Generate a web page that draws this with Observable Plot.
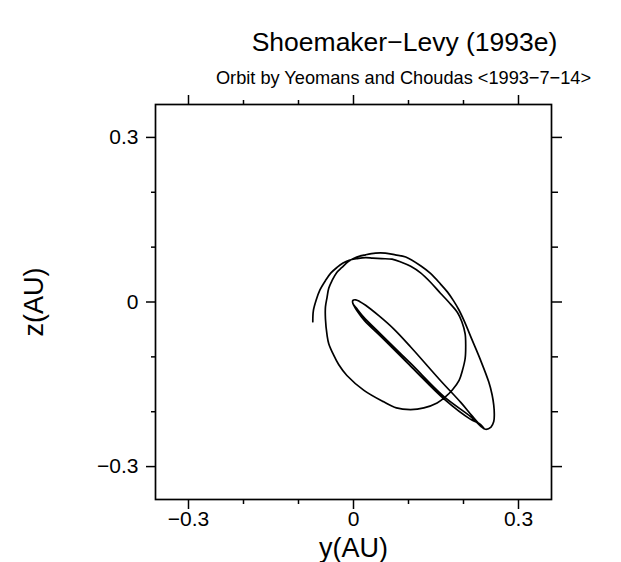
<!DOCTYPE html>
<html>
<head>
<meta charset="utf-8">
<script src="https://cdn.jsdelivr.net/npm/d3@7"></script>
<script src="https://cdn.jsdelivr.net/npm/@observablehq/plot@0.6"></script>
<style>
  html, body { margin: 0; padding: 0; background: #fff; }
  #chart svg { display: block; }
</style>
</head>
<body>
<div id="chart"></div>
<script>
// Jovicentric path, y (AU) and z (AU), in drawing order
const startArc = [
  [-0.074, -0.036], [-0.073, -0.016], [-0.068, 0.003], [-0.061, 0.022],
  [-0.051, 0.039], [-0.041, 0.053], [-0.030, 0.063], [-0.019, 0.071], [-0.008, 0.076]
];
const eggLoop = [
  [0.006, 0.079], [0.022, 0.081], [0.035, 0.080], [0.051, 0.079], [0.070, 0.078],
  [0.086, 0.073], [0.104, 0.065], [0.122, 0.053], [0.140, 0.036], [0.158, 0.016],
  [0.173, 0.000], [0.189, -0.019], [0.197, -0.036], [0.203, -0.058], [0.204, -0.082],
  [0.203, -0.103], [0.198, -0.125], [0.192, -0.143], [0.180, -0.160], [0.166, -0.174],
  [0.152, -0.184], [0.128, -0.193], [0.104, -0.196], [0.078, -0.193], [0.055, -0.182],
  [0.019, -0.161], [-0.012, -0.134], [-0.027, -0.114], [-0.036, -0.097], [-0.045, -0.076],
  [-0.048, -0.061], [-0.051, -0.031], [-0.051, -0.009], [-0.048, 0.009], [-0.045, 0.025],
  [-0.039, 0.039], [-0.031, 0.053], [-0.021, 0.063], [-0.009, 0.074]
];
const outerLoop = [
  [0.006, 0.082], [0.022, 0.086], [0.040, 0.089], [0.058, 0.089], [0.076, 0.086],
  [0.095, 0.082], [0.122, 0.066], [0.140, 0.052], [0.158, 0.033], [0.171, 0.018],
  [0.182, 0.002], [0.192, -0.015], [0.201, -0.034], [0.216, -0.070], [0.231, -0.106],
  [0.246, -0.146], [0.252, -0.169], [0.255, -0.188], [0.256, -0.205], [0.255, -0.218],
  [0.250, -0.228], [0.240, -0.232]
];
const inbound1 = [
  [0.231, -0.226], [0.213, -0.209], [0.164, -0.172], [0.104, -0.112], [0.049, -0.058],
  [0.018, -0.027], [0.006, -0.012], [-0.001, -0.003], [-0.001, 0.003]
];
const outbound = [
  [0.004, 0.004], [0.011, 0.001], [0.022, -0.006], [0.046, -0.025], [0.073, -0.049],
  [0.104, -0.082], [0.158, -0.143], [0.195, -0.183], [0.216, -0.208], [0.231, -0.225],
  [0.238, -0.231]
];
const inbound2 = [
  [0.229, -0.222], [0.213, -0.214], [0.166, -0.178], [0.106, -0.119], [0.051, -0.064],
  [0.020, -0.034], [0.007, -0.017], [0.000, -0.005]
];

const majorTicks = [-0.3, 0, 0.3];
const minorTicks = [-0.2, -0.1, 0.1, 0.2];
const titleText = "Shoemaker\u2212Levy (1993e)";
const subtitleText = "Orbit by Yeomans and Choudas <1993\u22127\u221214>";
const xLabel = "y(AU)";
const yLabel = "z(AU)";

const path = [...startArc, ...eggLoop, ...outerLoop, ...inbound1, ...outbound, ...inbound2]
  .map(([y, z], i) => ({y, z, i}));

const fmt = d => d === 0 ? "0" : (d < 0 ? "\u2212" : "") + Math.abs(d).toFixed(1);
const blank = () => "";
const font = "Liberation Sans, Arial, sans-serif";

const chart = Plot.plot({
  width: 621,
  height: 562,
  marginLeft: 155,
  marginRight: 70,
  marginTop: 104,
  marginBottom: 63,
  style: {fontFamily: font, background: "#fff", color: "#000"},
  x: {domain: [-0.36, 0.36], axis: null},
  y: {domain: [-0.36, 0.36], axis: null},
  marks: [
    Plot.frame({stroke: "#000", strokeWidth: 1.7}),
    // bottom
    Plot.axisX({anchor: "bottom", ticks: majorTicks, tickSize: 10, tickPadding: 2, tickFormat: fmt, fontSize: 21, strokeWidth: 1.5, label: null}),
    Plot.axisX({anchor: "bottom", ticks: minorTicks, tickSize: 5, tickFormat: blank, strokeWidth: 1.5, label: null}),
    // top
    Plot.axisX({anchor: "top", ticks: majorTicks, tickSize: 10, tickFormat: blank, strokeWidth: 1.5, label: null}),
    Plot.axisX({anchor: "top", ticks: minorTicks, tickSize: 5, tickFormat: blank, strokeWidth: 1.5, label: null}),
    // left
    Plot.axisY({anchor: "left", ticks: majorTicks, tickSize: 9, tickPadding: 8, tickFormat: fmt, fontSize: 21, strokeWidth: 1.5, label: null}),
    Plot.axisY({anchor: "left", ticks: minorTicks, tickSize: 4, tickFormat: blank, strokeWidth: 1.5, label: null}),
    // right
    Plot.axisY({anchor: "right", ticks: majorTicks, tickSize: 10, tickFormat: blank, strokeWidth: 1.5, label: null}),
    Plot.axisY({anchor: "right", ticks: minorTicks, tickSize: 6, tickFormat: blank, strokeWidth: 1.5, label: null}),
    // orbit
    Plot.line(path, {x: "y", y: "z", curve: "catmull-rom", stroke: "#000", strokeWidth: 1.7}),
    // labels
    Plot.text([xLabel], {frameAnchor: "bottom", dy: 49, lineAnchor: "middle", textAnchor: "middle", fontSize: 27, fill: "#000"}),
    Plot.text([yLabel], {frameAnchor: "left", dx: -121, rotate: -90, lineAnchor: "middle", textAnchor: "middle", fontSize: 27, fill: "#000"}),
    Plot.text([titleText], {frameAnchor: "top", dx: 51, dy: -54, lineAnchor: "bottom", textAnchor: "middle", fontSize: 26.5, fill: "#000"}),
    Plot.text([subtitleText], {frameAnchor: "top", dx: 50, dy: -21, lineAnchor: "bottom", textAnchor: "middle", fontSize: 18.2, fill: "#000"})
  ]
});
document.getElementById("chart").appendChild(chart);
</script>
</body>
</html>
